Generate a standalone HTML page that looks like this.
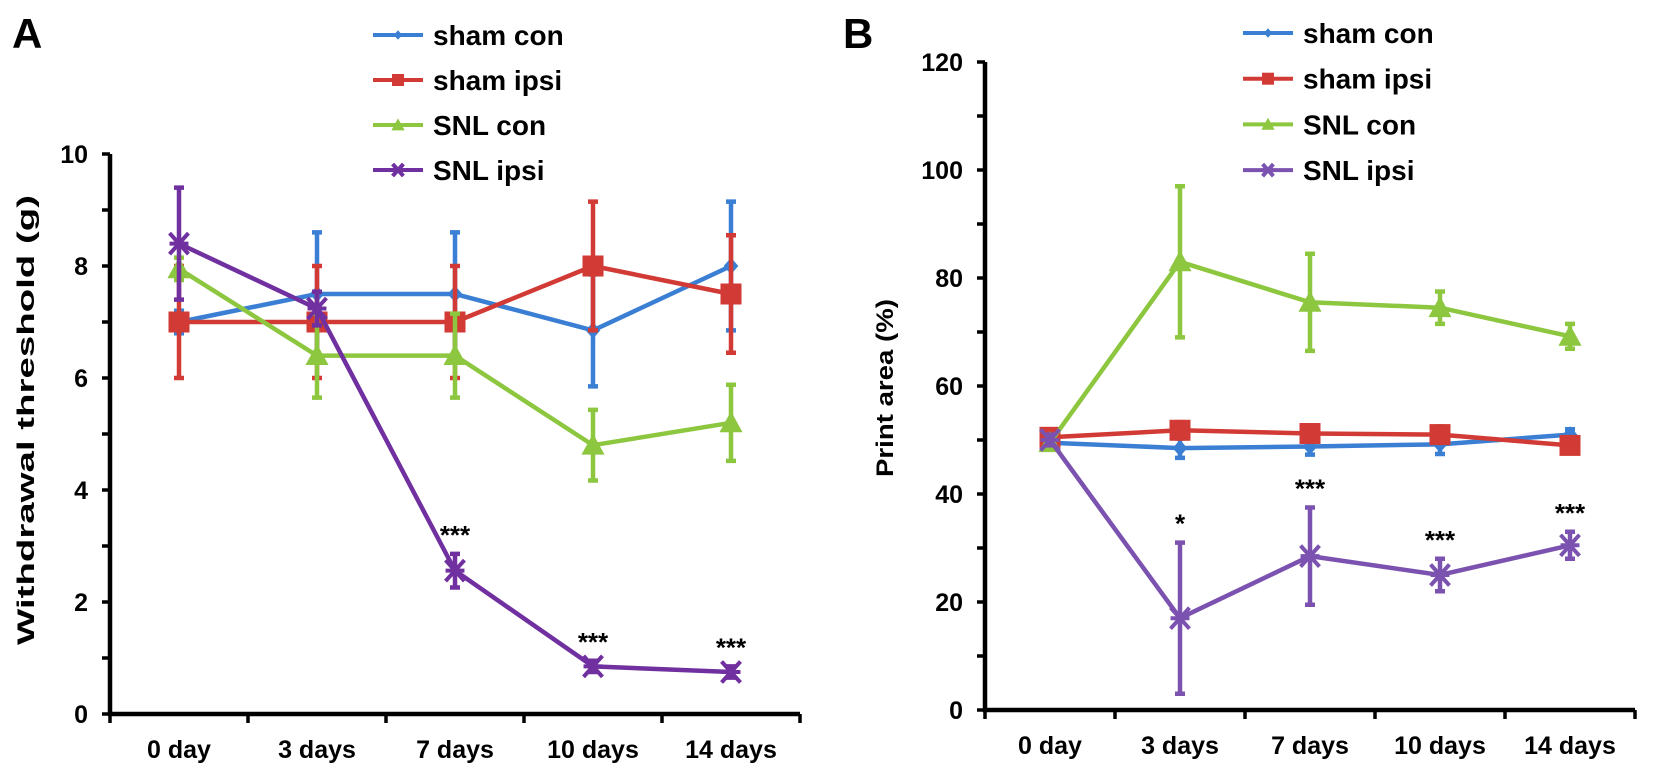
<!DOCTYPE html>
<html><head><meta charset="utf-8">
<style>
html,body{margin:0;padding:0;background:#fff;}
svg{display:block;font-family:"Liberation Sans",Arial,sans-serif;font-weight:bold;}
</style></head>
<body>
<svg id="chart" width="1657" height="774" viewBox="0 0 1657 774" xmlns="http://www.w3.org/2000/svg">
<text x="12" y="48" font-size="42">A</text>
<text x="843" y="48" font-size="42">B</text>
</svg>
<script>
const categories = ["0 day","3 days","7 days","10 days","14 days"];
const seriesNames = ["sham con","sham ipsi","SNL con","SNL ipsi"];
// Panel A values
const aShamCon = [7.0,7.5,7.5,6.85,8.0];
const aShamConErr = [0.2,1.1,1.1,1.0,1.15];
const aShamIpsi = [7.0,7.0,7.0,8.0,7.5];
const aShamIpsiErr = [1.0,1.0,1.0,1.15,1.05];
const aSnlCon = [7.95,6.4,6.4,4.8,5.2];
const aSnlConErr = [0.2,0.75,0.75,0.63,0.68];
const aSnlIpsi = [8.4,7.24,2.56,0.85,0.75];
const aSnlIpsiErr = [1.0,0.3,0.3,0.1,0.1];
const aYTicks = [0,2,4,6,8,10];
const aSig = ["","","***","***","***"];
// Panel B values
const bShamCon = [49.5,48.5,48.8,49.2,51];
const bShamConErr = [1,1.8,1.5,1.8,1];
const bShamIpsi = [50.5,51.8,51.2,51,49];
const bShamIpsiErr = [1,1.5,1.5,1.5,1];
const bSnlCon = [49.5,83,75.5,74.5,69.2];
const bSnlConErr = [1,14,9,3,2.3];
const bSnlIpsi = [50,17,28.5,25,30.5];
const bSnlIpsiErr = [1,14,9,3,2.5];
const bYTicks = [0,20,40,60,80,100,120];
const bSig = ["","*","***","***","***"];

const colors = ["#3a7fd4","#d23a35","#8dc63f","#7030a0"];
const colorsB = ["#3a7fd4","#d23a35","#8dc63f","#7b52b0"];
const NS="http://www.w3.org/2000/svg";
const svg=document.getElementById('chart');
function mk(tag,attrs,parent){const e=document.createElementNS(NS,tag);for(const k in attrs)e.setAttribute(k,attrs[k]);(parent||svg).appendChild(e);return e;}

function marker(g,type,x,y,c,s){
  s=s||1;
  if(type===0)return mk('path',{d:`M${x} ${y-8*s}L${x+7*s} ${y}L${x} ${y+8*s}L${x-7*s} ${y}Z`,fill:c},g);
  if(type===1)return mk('rect',{x:x-10*s,y:y-10*s,width:20*s,height:20*s,fill:c},g);
  if(type===2)return mk('path',{d:`M${x} ${y-11*s}L${x+11*s} ${y+9*s}L${x-11*s} ${y+9*s}Z`,fill:c},g);
  return mk('path',{d:`M${x-9*s} ${y-10*s}L${x+9*s} ${y+10*s}M${x+9*s} ${y-10*s}L${x-9*s} ${y+10*s}M${x-9*s} ${y}L${x+9*s} ${y}`,stroke:c,'stroke-width':4,fill:'none'},g);
}

function panel(p){
  const g=mk('g',{});
  
  
  const band=(p.x1-p.x0)/categories.length;
  const xs=i=>p.x0+band*(i+0.5);
  const ys=v=>p.y0-(v-p.ymin)/(p.ymax-p.ymin)*(p.y0-p.yTop);
  const ax=mk('path',{d:`M${p.x0} ${p.yTop}L${p.x0} ${p.y0}L${p.x1} ${p.y0}`,stroke:'#000','stroke-width':4.5,fill:'none'},g);
  
  
  const minorStep=(p.yTicks[1]-p.yTicks[0])/2;
  for(let v=p.ymin;v<=p.ymax+1e-9;v+=minorStep){
    mk('line',{x1:p.x0-8,x2:p.x0,y1:ys(v),y2:ys(v),stroke:'#000','stroke-width':3.5},g);
  }
  p.yTicks.forEach(v=>{
    const t=mk('text',{x:p.x0-22,y:ys(v)+9,'text-anchor':'end','font-size':25},g);
    t.textContent=v;
    
    
  });
  for(let i=0;i<=categories.length;i++){
    mk('line',{x1:p.x0+band*i,x2:p.x0+band*i,y1:p.y0,y2:p.y0+9,stroke:'#000','stroke-width':3.5},g);
  }
  categories.forEach((c,i)=>{
    const t=mk('text',{x:xs(i),y:p.y0+44,'text-anchor':'middle','font-size':25},g);
    t.textContent=c;
    
    
  });
  const yt=mk('text',{x:0,y:0,'text-anchor':'middle','font-size':24,textLength:p.ytLen,lengthAdjust:'spacingAndGlyphs',transform:`translate(${p.ytx},${p.yty}) rotate(-90)`},g);
  yt.textContent=p.ytitle;
  
  
  p.series.forEach((s,k)=>{
    const c=p.colors[k];
    const sg=mk('g',{},g);
    
    
    s.vals.forEach((v,i)=>{
      const e=s.err[i];
      const eb=mk('path',{d:`M${xs(i)} ${ys(v-e)}L${xs(i)} ${ys(v+e)}M${xs(i)-5} ${ys(v-e)}L${xs(i)+5} ${ys(v-e)}M${xs(i)-5} ${ys(v+e)}L${xs(i)+5} ${ys(v+e)}`,stroke:c,'stroke-width':4.5,fill:'none'},sg);
      
      
    });
    const d=s.vals.map((v,i)=>(i?'L':'M')+xs(i)+' '+ys(v)).join('');
    const ln=mk('path',{d:d,stroke:c,'stroke-width':4.5,fill:'none'},sg);
    
    
    s.vals.forEach((v,i)=>{
      const m=marker(sg,k,xs(i),ys(v),c,1.05);
      
      
    });
  });
  const ip=p.series[3];
  p.sig.forEach((s,i)=>{
    if(!s)return;
    const t=mk('text',{x:xs(i),y:ys(ip.vals[i]+ip.err[i])-10,'text-anchor':'middle','font-size':26},g);
    t.textContent=s;
    
    
  });
  seriesNames.forEach((n,k)=>{
    const lg=mk('g',{},g);
    
    
    const y=p.legY+k*p.legDy;
    mk('line',{x1:p.legX,x2:p.legX+50,y1:y,y2:y,stroke:p.colors[k],'stroke-width':4},lg);
    marker(lg,k,p.legX+25,y,p.colors[k],0.6);
    const t=mk('text',{x:p.legX+60,y:y+10,'font-size':28},lg);
    t.textContent=n;
  });
}

panel({name:'panel-a',x0:110,x1:800,y0:714,yTop:154,ymin:0,ymax:10,yTicks:aYTicks,ytx:34,yty:420,ytLen:450,ytitle:'Withdrawal threshold (g)',
  colors:colors,sig:aSig,legX:373,legY:35,legDy:45,
  series:[{vals:aShamCon,err:aShamConErr},{vals:aShamIpsi,err:aShamIpsiErr},{vals:aSnlCon,err:aSnlConErr},{vals:aSnlIpsi,err:aSnlIpsiErr}]});
panel({name:'panel-b',x0:985,x1:1635,y0:710,yTop:62,ymin:0,ymax:120,yTicks:bYTicks,ytx:893,yty:388,ytLen:178,ytitle:'Print area (%)',
  colors:colorsB,sig:bSig,legX:1243,legY:33,legDy:45.7,
  series:[{vals:bShamCon,err:bShamConErr},{vals:bShamIpsi,err:bShamIpsiErr},{vals:bSnlCon,err:bSnlConErr},{vals:bSnlIpsi,err:bSnlIpsiErr}]});
</script>
</body></html>
